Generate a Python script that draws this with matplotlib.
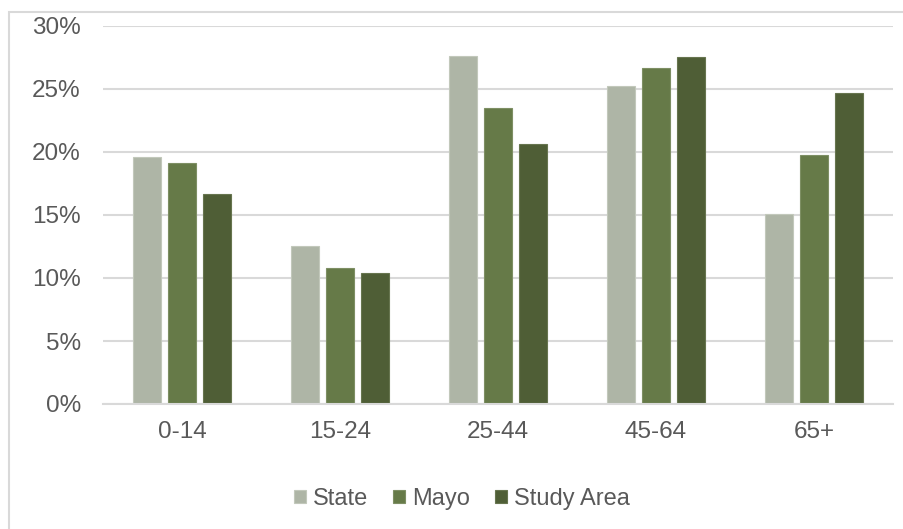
import matplotlib
matplotlib.use("Agg")
import matplotlib.pyplot as plt
import numpy as np
from matplotlib.patches import Rectangle

categories = ["0-14", "15-24", "25-44", "45-64", "65+"]
series_names = ["State", "Mayo", "Study Area"]
state = [19.6, 12.5, 27.6, 25.2, 15.1]
mayo = [19.1, 10.8, 23.5, 26.7, 19.8]
study = [16.7, 10.4, 20.6, 27.5, 24.7]
y_ticks = [0, 5, 10, 15, 20, 25, 30]
y_tick_labels = ["0%", "5%", "10%", "15%", "20%", "25%", "30%"]

colors = ["#AEB5A6", "#667A48", "#4F5E36"]
edges = ["#C2C8BB", "#7E8F64", "#67754F"]
text_color = "#595959"
grid_color = "#D9D9D9"

plt.rcParams['font.family'] = ['Liberation Sans', 'DejaVu Sans']

fig = plt.figure(figsize=(9.04, 5.29), dpi=100)
fig.patches.append(Rectangle((9/904, -0.1), 1.2, 1 - 12/529 + 0.1,
                             transform=fig.transFigure, fill=False,
                             edgecolor=grid_color, linewidth=1.5))
ax = fig.add_axes([103/904, 1 - 404/529, 790/904, 378/529])

x = np.arange(len(categories))
width = 0.172
step = 0.222
for i, (vals, name) in enumerate(zip([state, mayo, study], series_names)):
    ax.bar(x + (i - 1) * step, vals, width, color=colors[i], edgecolor=edges[i],
           linewidth=0.8, label=name, zorder=3)

ax.set_xlim(-0.5, len(categories) - 0.5)
ax.set_ylim(0, 30)
ax.set_yticks(y_ticks)
ax.set_yticklabels(y_tick_labels)
ax.set_xticks(x)
ax.set_xticklabels(categories)
ax.grid(axis='y', color=grid_color, linewidth=1.5, zorder=0)
for s in ['top', 'right', 'left']:
    ax.spines[s].set_visible(False)
ax.spines['bottom'].set_color(grid_color)
ax.spines['bottom'].set_linewidth(1.5)
ax.spines['bottom'].set_zorder(4)
ax.tick_params(axis='both', length=0, labelsize=17.5, labelcolor=text_color)
ax.tick_params(axis='y', pad=16)
ax.tick_params(axis='x', pad=12)

leg = fig.legend(loc='center', bbox_to_anchor=(462/904, 1 - 499/529), ncol=3,
                 frameon=False, fontsize=17, handlelength=0.5, handleheight=0.5,
                 handletextpad=0.3, columnspacing=1.05)
for t in leg.get_texts():
    t.set_color(text_color)

fig.savefig("out.png", dpi=100)
